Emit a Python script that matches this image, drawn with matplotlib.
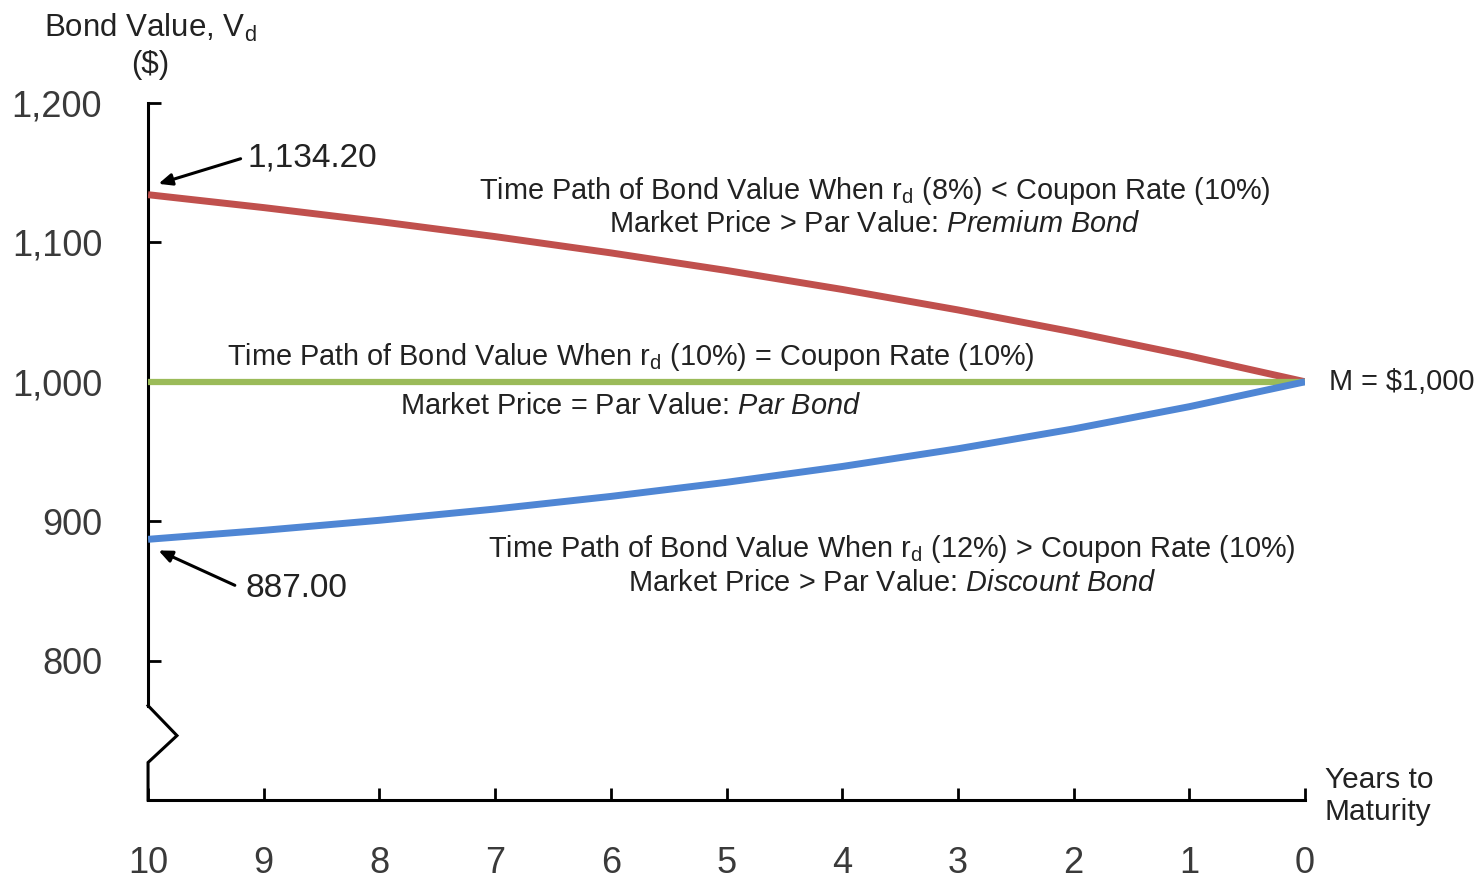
import numpy as np
import matplotlib
matplotlib.use("Agg")
import matplotlib.pyplot as plt

plt.rcParams['font.family'] = ['Liberation Sans', 'DejaVu Sans']
plt.rcParams['mathtext.fontset'] = 'custom'
plt.rcParams['mathtext.rm'] = 'Liberation Sans'
plt.rcParams['mathtext.it'] = 'Liberation Sans:italic'

# years to maturity and bond values
years = [10, 9, 8, 7, 6, 5, 4, 3, 2, 1, 0]
premium = [1134.20, 1124.94, 1114.93, 1104.13, 1092.46, 1079.85, 1066.24, 1051.54, 1035.67, 1018.52, 1000.00]
par = [1000, 1000, 1000, 1000, 1000, 1000, 1000, 1000, 1000, 1000, 1000]
discount = [887.00, 893.44, 900.65, 908.72, 917.77, 927.90, 939.25, 951.96, 966.20, 982.14, 1000.00]
y_ticks = [800, 900, 1000, 1100, 1200]
y_ticklabels = ['800', '900', '1,000', '1,100', '1,200']

fig = plt.figure(figsize=(14.82, 8.8), dpi=100)
ax = fig.add_axes([0.0999, 0.0909, 0.7807, 0.7921])

ax.plot(years, premium, color='#C0504D', lw=5.0, solid_capstyle='butt', zorder=3)
ax.plot(years, par, color='#9BBB59', lw=4.5, solid_capstyle='butt', zorder=3)
ax.plot(years, discount, color='#4F86D4', lw=5.0, solid_capstyle='butt', zorder=3)

ax.set_xlim(10, 0)
ax.set_ylim(700, 1200)
ax.set_xticks(years)
ax.set_xticklabels([str(y) for y in years])
ax.set_yticks(y_ticks)
ax.set_yticklabels(y_ticklabels)
ax.tick_params(direction='in', length=9, width=2, pad=33, labelsize=26,
               labelcolor='#3a3a3a')

for s in ['top', 'right']:
    ax.spines[s].set_visible(False)
ax.spines['bottom'].set_linewidth(2.2)
ax.spines['left'].set_linewidth(2.2)
ax.spines['left'].set_bounds(767.7, 1200)

# axis break zigzag
ax.plot([10, 10, 9.75, 10, 10], [767.7, 767.7, 746.2, 726.9, 700],
        color='black', lw=2.2, clip_on=False, solid_joinstyle='miter', zorder=4)

fs = 20.8
ink = '#222222'
ax.text(9.98, 1241, 'Bond Value, V$_\\mathrm{d}$\n($)', ha='center', va='center',
        fontsize=22.5, color=ink, multialignment='center', clip_on=False,
        linespacing=1.25)
ax.text(-0.17, 703, 'Years to\nMaturity', ha='left', va='center', fontsize=21.5,
        color=ink, clip_on=False, linespacing=1.2)
ax.text(-0.21, 1000, 'M = $1,000', ha='left', va='center', fontsize=fs, color=ink,
        clip_on=False)

ax.text(3.72, 1136.5, 'Time Path of Bond Value When r$_\\mathrm{d}$ (8%) < Coupon Rate (10%)',
        ha='center', va='center', fontsize=fs, color=ink)
ax.text(3.72, 1113.5, 'Market Price > Par Value: $\\mathit{Premium\\ Bond}$',
        ha='center', va='center', fontsize=fs, color=ink)
ax.text(5.83, 1017.5, 'Time Path of Bond Value When r$_\\mathrm{d}$ (10%) = Coupon Rate (10%)',
        ha='center', va='center', fontsize=fs, color=ink)
ax.text(5.83, 982.5, 'Market Price = Par Value: $\\mathit{Par\\ Bond}$',
        ha='center', va='center', fontsize=fs, color=ink)
ax.text(3.57, 880, 'Time Path of Bond Value When r$_\\mathrm{d}$ (12%) > Coupon Rate (10%)',
        ha='center', va='center', fontsize=fs, color=ink)
ax.text(3.57, 856, 'Market Price > Par Value: $\\mathit{Discount\\ Bond}$',
        ha='center', va='center', fontsize=fs, color=ink)

arrow = dict(arrowstyle='-|>,head_length=0.8,head_width=0.35', color='black', lw=2.2,
             shrinkA=0, shrinkB=0)
ax.annotate('', xy=(9.91, 1142), xytext=(9.2, 1160), arrowprops=arrow)
ax.text(9.14, 1160.6, '1,134.20', ha='left', va='center', fontsize=24, color=ink)
ax.annotate('', xy=(9.91, 879), xytext=(9.25, 854), arrowprops=arrow)
ax.text(9.16, 851.5, '887.00', ha='left', va='center', fontsize=24, color=ink)

plt.savefig('out.png', dpi=100)
